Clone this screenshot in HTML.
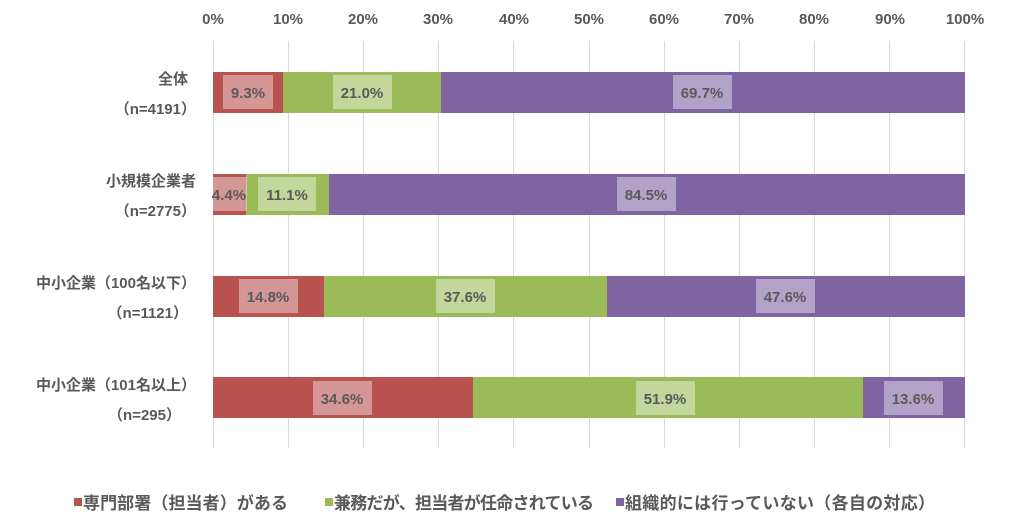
<!DOCTYPE html>
<html><head><meta charset="utf-8"><style>
body{margin:0;background:#fff;}
text{font-family:"Liberation Sans","Noto Sans CJK JP",sans-serif;fill:#595959;font-weight:bold;}
</style></head><body>
<svg width="1024" height="523" xmlns="http://www.w3.org/2000/svg">
<g stroke="#d9d9d9" stroke-width="1">
<line x1="213.5" y1="41" x2="213.5" y2="448"/><line x1="288.5" y1="41" x2="288.5" y2="448"/><line x1="363.5" y1="41" x2="363.5" y2="448"/><line x1="438.5" y1="41" x2="438.5" y2="448"/><line x1="513.5" y1="41" x2="513.5" y2="448"/><line x1="589.5" y1="41" x2="589.5" y2="448"/><line x1="664.5" y1="41" x2="664.5" y2="448"/><line x1="739.5" y1="41" x2="739.5" y2="448"/><line x1="814.5" y1="41" x2="814.5" y2="448"/><line x1="889.5" y1="41" x2="889.5" y2="448"/><line x1="964.5" y1="41" x2="964.5" y2="448"/>
</g>
<g font-size="15" text-anchor="middle">
<text x="213" y="24">0%</text><text x="288" y="24">10%</text><text x="363" y="24">20%</text><text x="438" y="24">30%</text><text x="514" y="24">40%</text><text x="589" y="24">50%</text><text x="664" y="24">60%</text><text x="739" y="24">70%</text><text x="814" y="24">80%</text><text x="890" y="24">90%</text><text x="965" y="24">100%</text>
</g>
<g>
<rect x="213" y="72" width="70" height="41" fill="#b9534f"/><rect x="283" y="72" width="158" height="41" fill="#9bbb59"/><rect x="441" y="72" width="524" height="41" fill="#8064a2"/>
<rect x="213" y="174" width="33" height="41" fill="#b9534f"/><rect x="246" y="174" width="83" height="41" fill="#9bbb59"/><rect x="329" y="174" width="636" height="41" fill="#8064a2"/>
<rect x="213" y="276" width="111" height="41" fill="#b9534f"/><rect x="324" y="276" width="283" height="41" fill="#9bbb59"/><rect x="607" y="276" width="358" height="41" fill="#8064a2"/>
<rect x="213" y="377" width="260" height="41" fill="#b9534f"/><rect x="473" y="377" width="390" height="41" fill="#9bbb59"/><rect x="863" y="377" width="102" height="41" fill="#8064a2"/>
</g>
<g fill="#fff" fill-opacity="0.4">
<rect x="223" y="75" width="50" height="34"/><rect x="333" y="75" width="59" height="34"/><rect x="673" y="75" width="59" height="34"/>
<rect x="213" y="177" width="34" height="34"/><rect x="258" y="177" width="58" height="34"/><rect x="617" y="177" width="59" height="34"/>
<rect x="239" y="279" width="59" height="34"/><rect x="436" y="279" width="59" height="34"/><rect x="756" y="279" width="59" height="34"/>
<rect x="313" y="381" width="59" height="34"/><rect x="636" y="381" width="59" height="34"/><rect x="884" y="381" width="59" height="34"/>
</g>
<g font-size="15" text-anchor="middle" style="fill:#404040">
<text x="248" y="98">9.3%</text><text x="362" y="98">21.0%</text><text x="702" y="98">69.7%</text>
<text x="229" y="200">4.4%</text><text x="287" y="200">11.1%</text><text x="646" y="200">84.5%</text>
<text x="268" y="302">14.8%</text><text x="465" y="302">37.6%</text><text x="785" y="302">47.6%</text>
<text x="342" y="404">34.6%</text><text x="665" y="404">51.9%</text><text x="913" y="404">13.6%</text>
</g>
<g font-size="15" text-anchor="end">
<text x="188" y="84">全体</text><text x="196" y="114">（n=4191）</text>
<text x="196" y="186">小規模企業者</text><text x="196" y="216">（n=2775）</text>
<text x="196" y="288">中小企業（100名以下）</text><text x="188" y="318">（n=1121）</text>
<text x="196" y="390">中小企業（101名以上）</text><text x="181" y="420">（n=295）</text>
</g>
<g font-size="17">
<rect x="74" y="498" width="8" height="8" fill="#b9534f"/><text x="83" y="509" textLength="205">専門部署（担当者）がある</text>
<rect x="325" y="498" width="8" height="8" fill="#9bbb59"/><text x="334" y="509" textLength="260">兼務だが、担当者が任命されている</text>
<rect x="616" y="498" width="8" height="8" fill="#8064a2"/><text x="625" y="509" textLength="310">組織的には行っていない（各自の対応）</text>
</g>
</svg>
</body></html>
